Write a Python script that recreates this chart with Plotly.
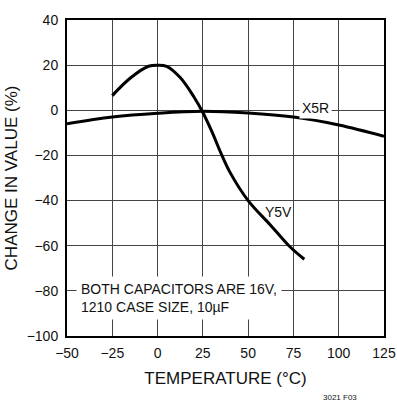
import plotly.graph_objects as go

# temperature sweep points (deg C)
x5rTemp   = [-50, -25, 0, 25, 50, 75, 100, 125]
x5rChange = [-6.0, -3.0, -1.3, -0.4, -1.2, -3.0, -6.5, -11.5]

y5vTemp   = [-25, -15, -5, 0, 5, 12.5, 20, 25, 30, 35, 40, 50, 62.5, 72.5, 81]
y5vChange = [6.5, 14.3, 19.5, 20, 19.5, 14.5, 6, -1, -9.5, -19, -27.5, -40, -51, -60, -66]

xTicks = [-50, -25, 0, 25, 50, 75, 100, 125]
yTicks = [-100, -80, -60, -40, -20, 0, 20, 40]

FONT = "Liberation Sans, Arial"

fig = go.Figure()
fig.add_trace(go.Scatter(x=x5rTemp, y=x5rChange, mode="lines",
                         line=dict(color="black", width=3, shape="spline", smoothing=1)))
fig.add_trace(go.Scatter(x=y5vTemp, y=y5vChange, mode="lines",
                         line=dict(color="black", width=3, shape="spline", smoothing=1)))

fig.update_layout(
    width=397, height=407,
    margin=dict(l=67, r=13, t=20, b=71),
    showlegend=False,
    plot_bgcolor="white", paper_bgcolor="white",
    font=dict(family=FONT, size=14, color="#111"),
)
fig.update_xaxes(range=[-50, 125], tickvals=xTicks, showgrid=True, gridcolor="#444", gridwidth=1.2,
                 showline=True, linecolor="black", linewidth=2, mirror=True, zeroline=False,
                 automargin=False, ticklabelstandoff=3,
                 title=dict(text="TEMPERATURE (°C)", standoff=12))
fig.update_yaxes(range=[-100, 40], tickvals=yTicks, showgrid=True, gridcolor="#444", gridwidth=1.2,
                 showline=True, linecolor="black", linewidth=2, mirror=True, zeroline=False,
                 automargin=False, ticklabelstandoff=4,
                 title=dict(text="CHANGE IN VALUE (%)", standoff=5))

# curve labels
fig.add_annotation(x=87.2, y=0.8, text="X5R", showarrow=False, bgcolor="white", borderpad=2)
fig.add_annotation(x=66.7, y=-45.2, text="Y5V", showarrow=False)

# note box
fig.add_annotation(x=-45, y=-83.3, xanchor="left", yanchor="middle",
                   text="BOTH CAPACITORS ARE 16V,<br>1210 CASE SIZE, 10µF",
                   showarrow=False, bgcolor="white", width=196, align="left", borderpad=4)

fig.add_annotation(xref="paper", yref="paper", x=0.921, y=-0.216, yanchor="bottom",
                   text="3021 F03", showarrow=False, font=dict(size=8))

# drop the default page margin so the figure sits at the window's corner, no modebar
fig.write_html("out.html", config={"displayModeBar": False},
               post_script="document.body.style.margin = '0';")
